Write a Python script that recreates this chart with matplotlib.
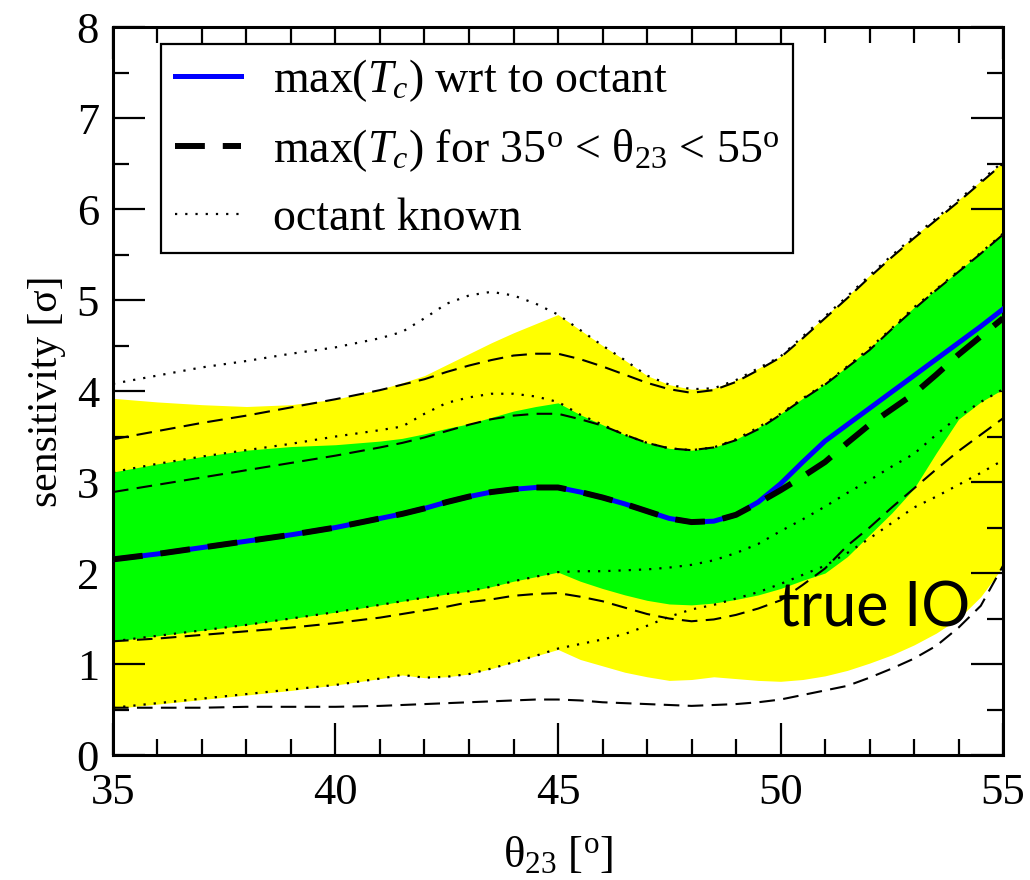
import numpy as np
import matplotlib.pyplot as plt
from matplotlib.ticker import MultipleLocator

plt.rcParams['font.family'] = ['Liberation Serif', 'DejaVu Serif']
plt.rcParams['mathtext.fontset'] = 'custom'
plt.rcParams['mathtext.rm'] = 'Liberation Serif'
plt.rcParams['mathtext.it'] = 'Liberation Serif:italic'

# angle theta23 [deg]
th = [35, 36, 37, 38, 39, 40, 41, 41.5, 42, 42.5, 43, 43.5, 44, 44.5, 45,
      45.5, 46, 46.5, 47, 47.5, 48, 48.5, 49, 49.5, 50, 50.5, 51, 51.5, 52,
      52.5, 53, 53.5, 54, 54.5, 55]

# max(Tc) wrt to octant
s_best = [2.15, 2.21, 2.28, 2.35, 2.42, 2.50, 2.60, 2.65, 2.71, 2.78, 2.84, 2.89, 2.92, 2.94, 2.94,
          2.89, 2.83, 2.76, 2.68, 2.60, 2.56, 2.57, 2.64, 2.78, 2.98, 3.22, 3.45, 3.63, 3.81,
          3.99, 4.17, 4.35, 4.53, 4.71, 4.90]
# max(Tc) for 35 < theta23 < 55
s_range = [2.15, 2.21, 2.28, 2.35, 2.42, 2.50, 2.60, 2.65, 2.71, 2.78, 2.84, 2.89, 2.92, 2.94, 2.94,
           2.89, 2.83, 2.76, 2.68, 2.60, 2.56, 2.57, 2.64, 2.77, 2.91, 3.06, 3.22, 3.43, 3.63,
           3.80, 3.97, 4.18, 4.40, 4.60, 4.80]

# bands
yel_top = [3.92, 3.88, 3.85, 3.83, 3.85, 3.91, 4.02, 4.09, 4.17, 4.29, 4.41, 4.53, 4.64, 4.74, 4.84,
           4.67, 4.50, 4.34, 4.17, 4.07, 4.02, 4.03, 4.12, 4.25, 4.38, 4.60, 4.82, 5.04, 5.27,
           5.49, 5.70, 5.90, 6.10, 6.31, 6.52]
yel_bot = [0.51, 0.56, 0.61, 0.66, 0.71, 0.77, 0.84, 0.88, 0.85, 0.86, 0.89, 0.95, 1.02, 1.09, 1.16,
           1.05, 0.98, 0.91, 0.86, 0.82, 0.83, 0.86, 0.84, 0.82, 0.81, 0.83, 0.87, 0.93, 1.01,
           1.10, 1.21, 1.34, 1.50, 1.74, 2.07]
grn_top = [3.11, 3.20, 3.28, 3.35, 3.39, 3.41, 3.45, 3.48, 3.53, 3.59, 3.64, 3.71, 3.78, 3.83, 3.87,
           3.74, 3.63, 3.52, 3.43, 3.37, 3.35, 3.38, 3.47, 3.60, 3.75, 3.92, 4.08, 4.27, 4.47,
           4.69, 4.92, 5.12, 5.32, 5.52, 5.73]
grn_bot = [1.25, 1.31, 1.37, 1.43, 1.50, 1.57, 1.65, 1.69, 1.73, 1.77, 1.80, 1.85, 1.91, 1.96, 2.01,
           1.91, 1.83, 1.76, 1.70, 1.66, 1.65, 1.67, 1.71, 1.76, 1.83, 1.92, 2.00, 2.18, 2.42,
           2.66, 2.93, 3.32, 3.69, 3.88, 4.02]

# thin dashed curves
d_out_top = [3.47, 3.56, 3.65, 3.73, 3.82, 3.91, 4.01, 4.07, 4.13, 4.21, 4.28, 4.34, 4.39, 4.41, 4.41,
             4.35, 4.27, 4.18, 4.09, 4.02, 3.98, 4.01, 4.10, 4.23, 4.37, 4.58, 4.80, 5.02, 5.25,
             5.47, 5.68, 5.88, 6.08, 6.29, 6.50]
d_in_top = [2.89, 2.97, 3.05, 3.13, 3.21, 3.29, 3.38, 3.43, 3.49, 3.56, 3.63, 3.69, 3.73, 3.75, 3.75,
            3.69, 3.62, 3.52, 3.43, 3.37, 3.35, 3.38, 3.46, 3.58, 3.74, 3.91, 4.07, 4.26, 4.45,
            4.68, 4.90, 5.11, 5.31, 5.51, 5.72]
d_in_bot = [1.25, 1.28, 1.32, 1.36, 1.40, 1.45, 1.51, 1.55, 1.59, 1.63, 1.68, 1.71, 1.75, 1.77, 1.78,
            1.74, 1.69, 1.62, 1.55, 1.50, 1.47, 1.49, 1.54, 1.61, 1.70, 1.87, 2.05, 2.30, 2.50,
            2.72, 2.93, 3.14, 3.34, 3.52, 3.70]
d_out_bot = [0.52, 0.52, 0.52, 0.53, 0.53, 0.53, 0.54, 0.55, 0.56, 0.57, 0.58, 0.59, 0.60, 0.61, 0.61,
             0.60, 0.58, 0.57, 0.56, 0.55, 0.54, 0.55, 0.56, 0.58, 0.61, 0.66, 0.71, 0.76, 0.85,
             0.95, 1.06, 1.20, 1.40, 1.64, 2.08]

# octant known (dotted)
o_out_top = [4.08, 4.17, 4.26, 4.33, 4.41, 4.48, 4.58, 4.65, 4.80, 4.96, 5.05, 5.09, 5.05, 4.96, 4.84,
             4.67, 4.50, 4.34, 4.17, 4.07, 4.02, 4.03, 4.12, 4.25, 4.38, 4.60, 4.82, 5.04, 5.27,
             5.49, 5.70, 5.90, 6.10, 6.31, 6.52]
o_in_top = [3.11, 3.20, 3.28, 3.35, 3.42, 3.50, 3.57, 3.61, 3.75, 3.87, 3.93, 3.97, 3.97, 3.94, 3.88,
            3.74, 3.63, 3.52, 3.43, 3.37, 3.35, 3.38, 3.47, 3.60, 3.75, 3.92, 4.08, 4.27, 4.47,
            4.69, 4.92, 5.12, 5.32, 5.52, 5.73]
o_in_bot = [1.25, 1.31, 1.37, 1.43, 1.50, 1.57, 1.65, 1.69, 1.73, 1.77, 1.80, 1.85, 1.91, 1.96, 2.01,
            2.02, 2.02, 2.03, 2.04, 2.06, 2.09, 2.14, 2.22, 2.32, 2.46, 2.59, 2.73, 2.88, 3.02,
            3.17, 3.31, 3.52, 3.72, 3.88, 4.02]
o_out_bot = [0.52, 0.57, 0.62, 0.67, 0.72, 0.77, 0.84, 0.88, 0.85, 0.86, 0.89, 0.95, 1.02, 1.09, 1.17,
             1.22, 1.27, 1.33, 1.42, 1.52, 1.60, 1.65, 1.72, 1.79, 1.88, 1.98, 2.08, 2.22, 2.38,
             2.55, 2.72, 2.84, 2.97, 3.10, 3.24]

fig = plt.figure(figsize=(10.3, 8.8), dpi=100)
ax = fig.add_axes([0.1097, 0.142, 0.8641, 0.8273])

ax.fill_between(th, yel_bot, yel_top, color='#ffff00', lw=0, zorder=1)
ax.fill_between(th, grn_bot, grn_top, color='#00ff00', lw=0, zorder=2)

dash_thin = (0, (7.5, 4))
dot = (0, (1, 3.6))
for c in [d_out_top, d_in_top, d_in_bot, d_out_bot]:
    ax.plot(th, c, color='k', lw=1.5, ls=dash_thin, zorder=3)
for i, c in enumerate([o_out_top, o_in_top, o_in_bot, o_out_bot]):
    ax.plot(th, c, color='k', lw=1.6, ls=dot, zorder=3,
            label='octant known' if i == 0 else None)

ax.plot(th, s_best, color='#0000ff', lw=3.6, zorder=4,
        label=r'max($T_c$) wrt to octant')
ax.plot(th, s_range, color='k', lw=4.3, ls=(0, (5, 3)), dash_capstyle='butt', zorder=5,
        label=r'max($T_c$) for 35$^{\rm o}$ < θ$_{23}$ < 55$^{\rm o}$')

ax.text(49.94, 1.41, 'true IO', family='Lato', fontsize=44, va='baseline', ha='left', zorder=6)

ax.set_xlim(35, 55)
ax.set_ylim(0, 8)
ax.xaxis.set_major_locator(MultipleLocator(5))
ax.xaxis.set_minor_locator(MultipleLocator(1))
ax.yaxis.set_major_locator(MultipleLocator(1))
ax.yaxis.set_minor_locator(MultipleLocator(0.5))
ax.tick_params(which='both', direction='in', top=True, right=True, width=1.6)
ax.tick_params(which='major', length=23, labelsize=32)
ax.tick_params(which='minor', length=11.5)
ax.tick_params(axis='x', pad=13)
ax.tick_params(axis='y', pad=10)
for sp in ax.spines.values():
    sp.set_linewidth(2.2)

ax.set_xlabel('θ$_{23}$ [$^{\\rm o}$]', fontsize=32, labelpad=16)
ax.set_ylabel('sensitivity [σ]', fontsize=30, labelpad=8)

h, l = ax.get_legend_handles_labels()
order = [1, 2, 0]
leg = ax.legend([h[i] for i in order], [l[i] for i in order], loc='upper left',
                bbox_to_anchor=(0.054, 0.977), borderaxespad=0, fontsize=33,
                frameon=True, fancybox=False, framealpha=1, edgecolor='k',
                handlelength=1.45, handletextpad=0.7, labelspacing=0.5, borderpad=0.3)
leg.get_frame().set_linewidth(1.6)
leg.set_zorder(10)

fig.savefig('out.png', dpi=100)
